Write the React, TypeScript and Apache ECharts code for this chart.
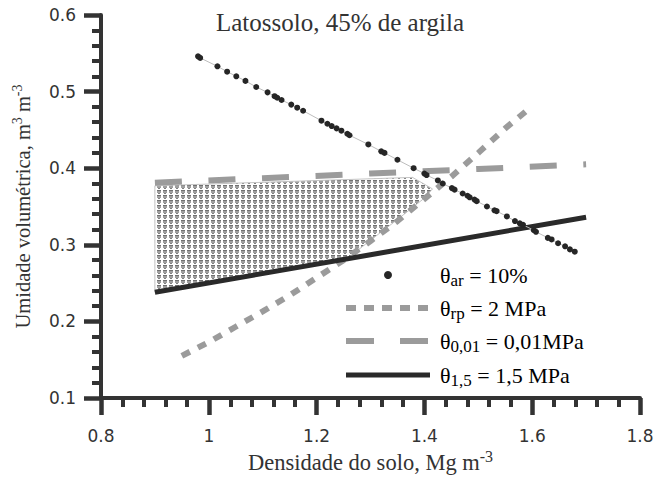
import React, { useEffect, useRef } from "react";
import * as echarts from "echarts";

// Bulk density (Mg m-3) axis ticks and moisture (m3 m-3) axis ticks
const densityTicks = { min: 0.8, max: 1.8, step: 0.2 };
const moistureTicks = { min: 0.1, max: 0.6, step: 0.1 };

// θar = 10% (aeration porosity limit)
const arDensity = [
  0.98, 0.984, 1.016, 1.034, 1.051, 1.068, 1.088, 1.109, 1.122, 1.127, 1.135, 1.153,
  1.164, 1.175, 1.209, 1.22, 1.228, 1.237, 1.246, 1.257, 1.261, 1.296, 1.32, 1.326,
  1.35, 1.38, 1.4, 1.404, 1.425, 1.434, 1.451, 1.456, 1.471, 1.48, 1.484, 1.493,
  1.497, 1.516, 1.53, 1.534, 1.553, 1.568, 1.577, 1.583, 1.603, 1.607, 1.629, 1.636,
  1.648, 1.661, 1.67, 1.679,
];
const arMoisture = [
  0.546, 0.544, 0.533, 0.526, 0.52, 0.514, 0.506, 0.499, 0.494, 0.492, 0.489, 0.483,
  0.479, 0.475, 0.462, 0.458, 0.455, 0.452, 0.449, 0.445, 0.443, 0.431, 0.422, 0.42,
  0.411, 0.4, 0.393, 0.391, 0.384, 0.38, 0.374, 0.372, 0.367, 0.364, 0.362, 0.359,
  0.357, 0.35, 0.345, 0.344, 0.337, 0.331, 0.328, 0.326, 0.319, 0.317, 0.309, 0.307,
  0.302, 0.298, 0.294, 0.291,
];

// θrp = 2 MPa (penetration resistance limit)
const rpDensity = [0.95, 1.0, 1.05, 1.1, 1.15, 1.2, 1.25, 1.3, 1.35, 1.4, 1.45, 1.5, 1.55, 1.6];
const rpMoisture = [0.155, 0.173, 0.193, 0.213, 0.234, 0.257, 0.28, 0.305, 0.331, 0.36, 0.389, 0.42, 0.452, 0.481];

// θ0,01 = 0,01 MPa (field capacity)
const fcDensity = [0.9, 1.1, 1.3, 1.5, 1.7];
const fcMoisture = [0.381, 0.387, 0.393, 0.399, 0.405];

// θ1,5 = 1,5 MPa (wilting point)
const wpDensity = [0.9, 1.3, 1.7];
const wpMoisture = [0.238, 0.287, 0.336];

// Least limiting water range outline
const rangeDensity = [0.9, 0.9, 1.378, 1.415, 1.4, 1.35, 1.3, 1.255];
const rangeMoisture = [0.238, 0.377, 0.388, 0.373, 0.361, 0.333, 0.306, 0.281];

const SERIF = "'Liberation Serif', 'Times New Roman', serif";
const SANS = "'DejaVu Sans', Verdana, sans-serif";
const INK = "#333333";
const GREY = "#9b9b9b";

const pairs = (xs: number[], ys: number[]) => xs.map((x, i) => [x, ys[i]]);

function stippleTile(): string {
  const c = document.createElement("canvas");
  c.width = 6;
  c.height = 5;
  const g = c.getContext("2d")!;
  g.fillStyle = "#ffffff";
  g.fillRect(0, 0, 6, 5);
  g.fillStyle = "#707070";
  g.fillRect(1, 0, 4, 1);
  g.fillStyle = "#a0a0a0";
  g.fillRect(1, 1, 4, 2);
  g.fillStyle = "#808080";
  g.fillRect(2, 3, 2, 1);
  return c.toDataURL();
}

const legendRich = {
  t: { fontFamily: SERIF, fontSize: 22, color: INK, lineHeight: 28 },
  s: { fontFamily: SERIF, fontSize: 17, color: INK, lineHeight: 17, verticalAlign: "bottom" },
};

function legendText(y: number, text: string) {
  return {
    type: "text",
    x: 440,
    y,
    style: { text, rich: legendRich, verticalAlign: "middle", align: "left" },
  };
}

function nameStyle(size: number) {
  return {
    fontFamily: SERIF,
    fontSize: size,
    color: INK,
    lineHeight: size + 4,
    rich: {
      sup: { fontFamily: SERIF, fontSize: Math.round(size * 0.7), color: INK, lineHeight: 12, verticalAlign: "top" },
    },
  };
}

export default function App() {
  const ref = useRef<HTMLDivElement>(null);

  useEffect(() => {
    if (!ref.current) return;
    const chart = echarts.init(ref.current, null, { renderer: "svg" });
    const tile = stippleTile();

    const axisCommon = {
      type: "value",
      axisLine: { onZero: false, lineStyle: { color: INK, width: 4 } },
      axisTick: { show: true, length: 17, lineStyle: { color: INK, width: 4.5 } },
      minorTick: { show: true, splitNumber: 5, length: 9, lineStyle: { color: INK, width: 4 } },
      splitLine: { show: false },
      minorSplitLine: { show: false },
    };

    chart.setOption({
      animation: false,
      backgroundColor: "#ffffff",
      grid: { left: 101, right: 19, top: 15, bottom: 82, containLabel: false, outerBoundsMode: "none" },
      xAxis: {
        ...axisCommon,
        min: densityTicks.min,
        max: densityTicks.max,
        interval: densityTicks.step,
        axisLabel: { color: INK, fontFamily: SANS, fontSize: 17, margin: 29 },
        name: "Densidade do solo, Mg m{sup|-3}",
        nameLocation: "middle",
        nameGap: 47,
        nameTextStyle: nameStyle(22.5),
      },
      yAxis: {
        ...axisCommon,
        min: moistureTicks.min,
        max: moistureTicks.max,
        interval: moistureTicks.step,
        axisLabel: { color: INK, fontFamily: SANS, fontSize: 17, margin: 25 },
        name: "Umidade volumétrica, m{sup|3} m{sup|-3}",
        nameLocation: "middle",
        nameGap: 66,
        nameTextStyle: nameStyle(20.5),
      },
      series: [
        {
          name: "range",
          type: "custom",
          coordinateSystem: "cartesian2d",
          silent: true,
          z: 1,
          data: [[rangeDensity[0], rangeMoisture[0]]],
          renderItem: (_params: any, api: any) => ({
            type: "polygon",
            shape: { points: rangeDensity.map((d, i) => api.coord([d, rangeMoisture[i]])) },
            style: {
              fill: { image: tile, repeat: "repeat", imageWidth: 6, imageHeight: 5 },
              stroke: "#c4c4c4",
              lineWidth: 1,
            },
          }),
        },
        {
          name: "θ0,01",
          type: "line",
          z: 3,
          symbol: "none",
          data: pairs(fcDensity, fcMoisture),
          lineStyle: { color: GREY, width: 6, type: [27, 26.6] },
        },
        {
          name: "θrp",
          type: "line",
          z: 3,
          symbol: "none",
          data: pairs(rpDensity, rpMoisture),
          lineStyle: { color: GREY, width: 6, type: [9, 9] },
        },
        {
          name: "θ1,5",
          type: "line",
          z: 4,
          symbol: "none",
          data: pairs(wpDensity, wpMoisture),
          lineStyle: { color: "#2a2a2a", width: 5 },
        },
        {
          name: "θar",
          type: "line",
          z: 5,
          symbol: "circle",
          symbolSize: 6,
          showSymbol: true,
          showAllSymbol: true,
          data: pairs(arDensity, arMoisture),
          itemStyle: { color: "#262626" },
          lineStyle: { color: "#bdbdbd", width: 1 },
        },
      ],
      graphic: [
        {
          type: "text",
          x: 340,
          y: 22,
          style: {
            text: "Latossolo, 45% de argila",
            fontFamily: SERIF,
            fontSize: 25,
            fill: INK,
            align: "center",
            verticalAlign: "middle",
          },
        },
        { type: "circle", shape: { cx: 388, cy: 275, r: 4 }, style: { fill: "#262626" } },
        legendText(275, "{t|θ}{s|ar}{t| = 10%}"),
        {
          type: "line",
          shape: { x1: 346, y1: 308, x2: 428, y2: 308 },
          style: { stroke: GREY, lineWidth: 6, lineDash: [10, 8] },
        },
        legendText(308, "{t|θ}{s|rp}{t| = 2 MPa}"),
        {
          type: "line",
          shape: { x1: 346, y1: 341, x2: 428, y2: 341 },
          style: { stroke: GREY, lineWidth: 6, lineDash: [28, 26] },
        },
        legendText(341, "{t|θ}{s|0,01}{t| = 0,01MPa}"),
        {
          type: "line",
          shape: { x1: 346, y1: 375, x2: 430, y2: 375 },
          style: { stroke: "#2a2a2a", lineWidth: 5 },
        },
        legendText(375, "{t|θ}{s|1,5}{t| = 1,5 MPa}"),
      ],
    });

    return () => chart.dispose();
  }, []);

  return <div ref={ref} style={{ position: "fixed", left: 0, top: 0, width: 659, height: 480 }} />;
}
